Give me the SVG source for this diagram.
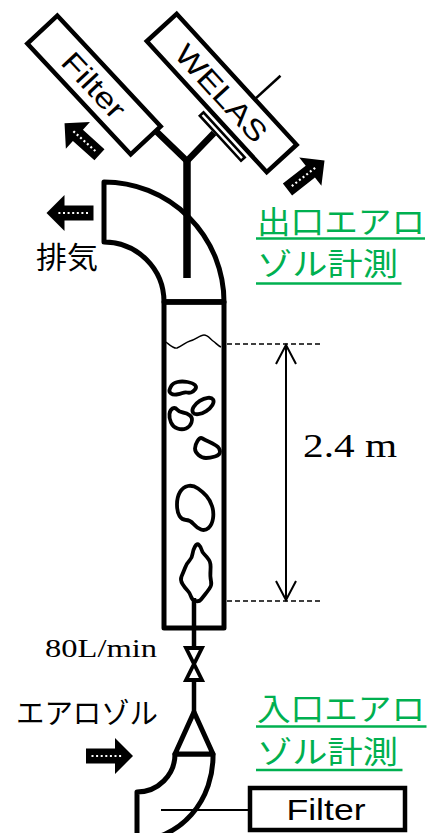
<svg xmlns="http://www.w3.org/2000/svg" xmlns:xlink="http://www.w3.org/1999/xlink" width="431" height="833" viewBox="0 0 431 833">
  <style>
    .outline { fill: #fff; stroke: #000; stroke-width: 5; stroke-linejoin: round; }
    .box { fill: #fff; stroke: #000; stroke-width: 4.5; }
    .pipe { fill: none; stroke: #000; stroke-linecap: butt; }
    .bubble { fill: none; stroke: #000; stroke-width: 3.8; stroke-linejoin: round; }
    .thin { fill: none; stroke: #000; stroke-width: 2; }
    .dash { fill: none; stroke: #000; stroke-width: 1.5; stroke-dasharray: 5 3; }
    .sans { font-family: "Liberation Sans", Arial, sans-serif; font-size: 29px; fill: #000; }
    .serif { font-family: "Liberation Serif", "Times New Roman", serif; fill: #000; }
    .jp { font-family: "Noto Sans CJK JP", "Noto Sans", sans-serif; fill: #000; }
    .green { font-family: "Noto Sans CJK JP", "Noto Sans", sans-serif; font-size: 31px; fill: #00B050; }
    .uline { stroke: #00B050; stroke-width: 2.4; }
  </style>
  <defs>
    <!-- block flow arrow with a dotted core, pointing along +x, centred on the origin -->
    <g id="flowArrow">
      <path d="M-23.5,-7.5 H5.5 V-18 L23.5,0 L5.5,18 V7.5 H-23.5 Z" fill="#000"/>
      <line x1="-18" y1="0" x2="14" y2="0" stroke="#fff" stroke-width="2.2" stroke-dasharray="2 2.6"/>
    </g>
  </defs>

  <!-- outlet filter -->
  <g id="filter-out" transform="translate(94 85) rotate(47)">
    <rect class="box" x="-75.75" y="-20.5" width="151.5" height="41"/>
    <text class="sans" x="0" y="10.5" text-anchor="middle" textLength="79" lengthAdjust="spacingAndGlyphs">Filter</text>
  </g>

  <!-- WELAS optical particle counter -->
  <g id="welas" transform="translate(221.7 93) rotate(47.5)">
    <line x1="27" y1="-20" x2="27" y2="-55" stroke="#000" stroke-width="2.5"/>
    <rect class="box" x="-88.75" y="-20.25" width="177.5" height="40.5"/>
    <rect x="2" y="26.5" width="61" height="5" fill="#fff" stroke="#000" stroke-width="2.6"/>
    <text class="sans" x="0" y="10.5" text-anchor="middle" textLength="121" lengthAdjust="spacingAndGlyphs">WELAS</text>
  </g>

  <!-- exhaust elbow on top of the column -->
  <g id="exhaust-elbow">
    <path class="outline" d="M104,182 A120,120 0 0 1 224,302 L164,302 A60,60 0 0 0 104,242 Z"/>
  </g>

  <!-- sampling probe into the elbow -->
  <g id="probe">
    <line class="pipe" x1="187" y1="158" x2="187" y2="278" stroke-width="7.5"/>
  </g>

  <!-- bubble column -->
  <g id="column">
    <rect class="outline" x="164" y="302" width="60" height="326" stroke-linejoin="miter"/>
    <line x1="162" y1="302" x2="226" y2="302" stroke="#000" stroke-width="5.5"/>
    <!-- liquid surface -->
    <path d="M166,342 C171,346 174,349 177,348 C182,346 186,342 190,341 C195,340 200,335 204,335 C208,335 210,339 213,341 C216,343 218,346 221,347" fill="none" stroke="#000" stroke-width="1.5"/>
    <!-- sparger stem -->
    <line class="pipe" x1="194" y1="598" x2="194" y2="628" stroke-width="4.5"/>
  </g>

  <!-- rising bubbles -->
  <g id="bubbles">
    <path class="bubble" d="M169.5,390 Q170,388 171.5,385.5 Q173,383 177.5,382 Q182,381 187.5,382 Q193,383 195,385 Q197,387 195,389.5 Q193,392 191,392.5 Q189,393 187,392.5 Q185,392 182.5,393 Q180,394 176.5,394.5 Q173,395 171,393.5 Q169,392 169.5,390 Z"/>
    <ellipse class="bubble" cx="203" cy="406" rx="12" ry="6" transform="rotate(-33 203 406)"/>
    <path class="bubble" d="M169.5,414 Q170,410 172.5,408.5 Q175,407 177,409.5 Q179,412 183,412.5 Q187,413 190,415.5 Q193,418 191.5,422.5 Q190,427 186,428.5 Q182,430 177.5,428.5 Q173,427 171,422.5 Q169,418 169.5,414 Z"/>
    <path class="bubble" d="M197.5,441 Q200,437 202.5,438.5 Q205,440 208.5,441.5 Q212,443 216,445.5 Q220,448 220,451.5 Q220,455 215,456.5 Q210,458 206,458 Q202,458 198.5,455 Q195,452 195,448.5 Q195,445 197.5,441 Z"/>
    <path class="bubble" d="M180,492 Q183,487 188,486 Q193,485 198,488.5 Q203,492 206.5,496 Q210,500 212,506 Q214,512 213,518.5 Q212,525 208.5,528 Q205,531 201,529.5 Q197,528 193.5,524 Q190,520 186,520 Q182,520 179.5,516 Q177,512 177,504.5 Q177,497 180,492 Z"/>
    <path class="bubble" d="M195,546.5 Q197,543 199,545 Q201,547 201.5,549.5 Q202,552 204.5,554.5 Q207,557 209,560 Q211,563 210.5,570 Q210,577 211,581 Q212,585 209.5,588.5 Q207,592 205,594.5 Q203,597 201,599.5 Q199,602 195.5,601 Q192,600 191,596.5 Q190,593 187.5,590.5 Q185,588 182.5,584 Q180,580 181.5,576.5 Q183,573 185,568 Q187,563 189.5,560.5 Q192,558 192.5,554 Q193,550 195,546.5 Z"/>
  </g>

  <!-- liquid height dimension -->
  <g id="dimension">
    <line class="dash" x1="227" y1="344" x2="322" y2="344"/>
    <line class="dash" x1="227" y1="601" x2="322" y2="601"/>
    <line x1="286" y1="345" x2="286" y2="600" stroke="#000" stroke-width="2"/>
    <polyline points="276,364 286,345 296,364" fill="none" stroke="#000" stroke-width="2"/>
    <polyline points="276,581 286,600 296,581" fill="none" stroke="#000" stroke-width="2"/>
    <text class="serif" x="303" y="457" font-size="34" textLength="94" lengthAdjust="spacingAndGlyphs">2.4 m</text>
  </g>

  <!-- flow control valve -->
  <g id="valve">
    <path d="M186,648 H202 L194,664 Z" fill="#fff" stroke="#000" stroke-width="3.8"/>
    <path d="M186,680 H202 L194,664 Z" fill="#fff" stroke="#000" stroke-width="3.8"/>
  </g>

  <!-- inlet elbow and cone -->
  <g id="inlet-elbow">
    <path class="outline" d="M175,754 A38,38 0 0 1 137,792 L137,840 A76,84 0 0 0 213,754 Z"/>
    <path class="outline" d="M194,712 L175,754 H213 Z" stroke-linejoin="miter"/>
  </g>

  <!-- inlet filter -->
  <g id="filter-in">
    <rect class="box" x="250" y="788" width="155" height="42"/>
    <text class="sans" x="286.5" y="820" textLength="79" lengthAdjust="spacingAndGlyphs">Filter</text>
  </g>

  <!-- pipework and connecting lines -->
  <g id="connectors">
    <!-- Y branch from the probe to the filter and the WELAS sensor -->
    <polyline class="pipe" points="157,132 187,161 214,133" stroke-width="6.5" stroke-linejoin="miter"/>
    <!-- inlet line: column bottom, valve, cone -->
    <line class="pipe" x1="194" y1="628" x2="194" y2="648" stroke-width="4.5"/>
    <line class="pipe" x1="194" y1="680" x2="194" y2="712" stroke-width="4.5"/>
    <!-- bypass line to the inlet filter -->
    <line class="thin" x1="161" y1="810" x2="250" y2="810"/>
  </g>

  <!-- flow direction arrows -->
  <g id="arrows">
    <use xlink:href="#flowArrow" transform="translate(82 139) rotate(222)"/>
    <use xlink:href="#flowArrow" transform="translate(306 175) rotate(-38)"/>
    <use xlink:href="#flowArrow" transform="translate(70 213) rotate(180)"/>
    <use xlink:href="#flowArrow" transform="translate(109.5 756)"/>
  </g>

  <!-- labels -->
  <g id="labels">
    <text class="jp" x="36" y="268" font-size="30" textLength="62" lengthAdjust="spacingAndGlyphs">排気</text>
    <text class="jp" x="16" y="724" font-size="29" textLength="142" lengthAdjust="spacingAndGlyphs">エアロゾル</text>
    <text class="serif" x="45" y="657" font-size="25" textLength="112" lengthAdjust="spacingAndGlyphs">80L/min</text>

    <text class="green" x="257" y="233" textLength="168" lengthAdjust="spacingAndGlyphs">出口エアロ</text>
    <text class="green" x="257" y="275" textLength="141" lengthAdjust="spacingAndGlyphs">ゾル計測</text>
    <line class="uline" x1="256" y1="238.5" x2="425" y2="238.5"/>
    <line class="uline" x1="256" y1="283.5" x2="401.5" y2="283.5"/>

    <text class="green" x="257" y="720" textLength="168" lengthAdjust="spacingAndGlyphs">入口エアロ</text>
    <text class="green" x="257" y="763" textLength="141" lengthAdjust="spacingAndGlyphs">ゾル計測</text>
    <line class="uline" x1="256" y1="726.5" x2="426.5" y2="726.5"/>
    <line class="uline" x1="256" y1="770" x2="402.5" y2="770"/>
  </g>
</svg>
